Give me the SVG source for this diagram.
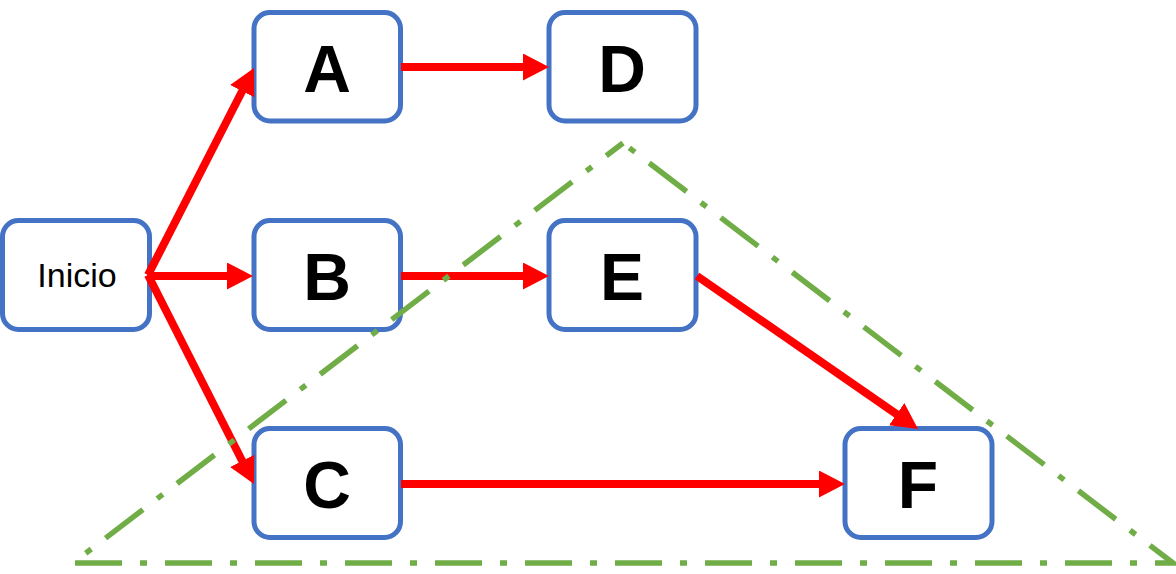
<svg xmlns="http://www.w3.org/2000/svg" width="1176" height="574" viewBox="0 0 1176 574">
<style>
.box{fill:#fff;stroke:#4472C4;stroke-width:5}
.lbl{font-family:"Liberation Sans",Arial,sans-serif;font-weight:bold;font-size:66px;fill:#000;text-anchor:middle}
.small{font-family:"Liberation Sans",Arial,sans-serif;font-size:34px;fill:#000;text-anchor:middle}
.con{stroke:#FF0000;stroke-width:8;fill:none;marker-end:url(#ah)}
.tri{fill:none;stroke:#70AD47;stroke-width:5.5;stroke-dasharray:47 18 7 18;stroke-dashoffset:57}
</style>
<defs>
<marker id="ah" markerUnits="userSpaceOnUse" markerWidth="26" markerHeight="27" refX="6" refY="13.5" orient="auto" viewBox="0 0 26 27">
<path d="M0,0 L26,13.5 L0,27 Z" fill="#FF0000"/>
</marker>
</defs>
<g id="node-inicio"><rect class="box" x="2.5" y="220.5" width="147" height="109" rx="16"/><text class="small" x="77" y="287">Inicio</text></g>
<g id="node-A"><rect class="box" x="254" y="12.5" width="146.5" height="108.5" rx="16"/><text class="lbl" x="327" y="92">A</text></g>
<g id="node-B"><rect class="box" x="254" y="220.5" width="146.5" height="109" rx="16"/><text class="lbl" x="327" y="300">B</text></g>
<g id="node-C"><rect class="box" x="254" y="428.5" width="146.5" height="109" rx="16"/><text class="lbl" x="327" y="508">C</text></g>
<g id="node-D"><rect class="box" x="549" y="12.5" width="147" height="108.5" rx="16"/><text class="lbl" x="622" y="92">D</text></g>
<g id="node-E"><rect class="box" x="549" y="220.5" width="147" height="109" rx="16"/><text class="lbl" x="622" y="300">E</text></g>
<g id="node-F"><rect class="box" x="845" y="428.5" width="147" height="109" rx="16"/><text class="lbl" x="918" y="508">F</text></g>
<g id="connectors">
<line class="con" x1="148" y1="275" x2="244.9" y2="85.8"/>
<line class="con" x1="148" y1="276" x2="233" y2="276"/>
<line class="con" x1="148" y1="275" x2="244.9" y2="466.2"/>
<line class="con" x1="401" y1="67" x2="529" y2="67"/>
<line class="con" x1="401" y1="276" x2="529" y2="276"/>
<line class="con" x1="697" y1="276" x2="901.6" y2="417.6"/>
<line class="con" x1="401" y1="484" x2="825" y2="484"/>
</g>
<g id="triangle">
<path class="tri" d="M623,143 L1173,563 L73,563 Z"/>
</g>
</svg>
